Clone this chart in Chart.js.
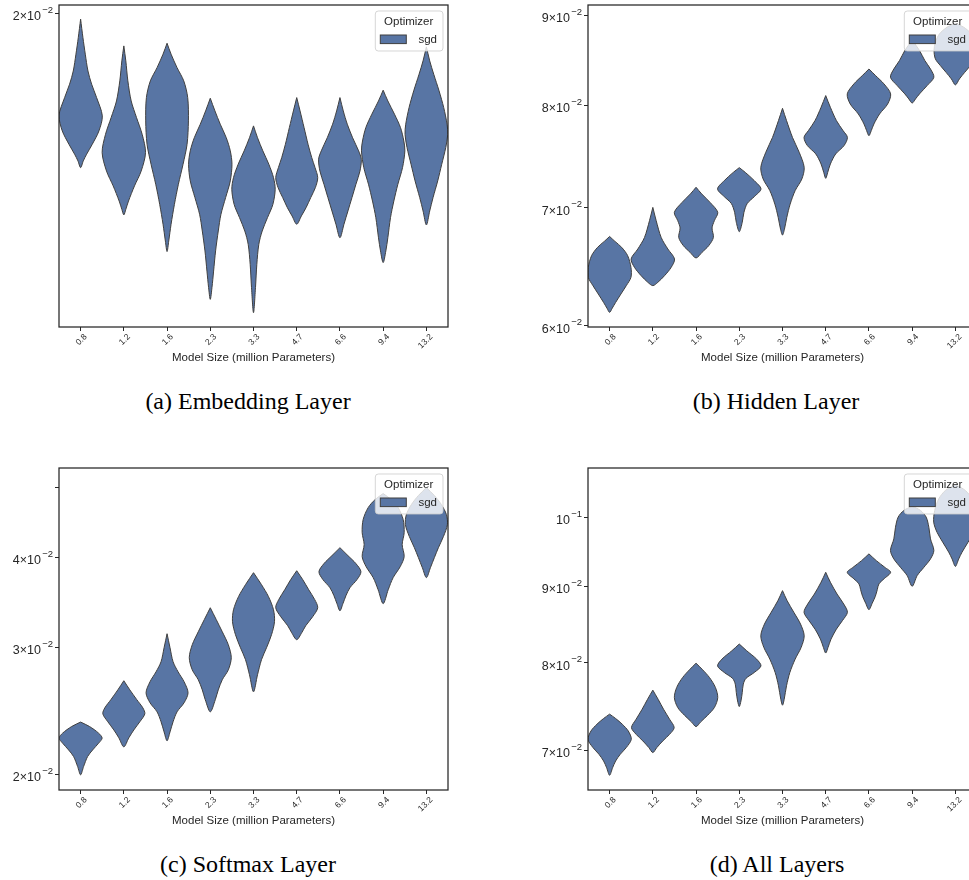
<!DOCTYPE html>
<html>
<head>
<meta charset="utf-8">
<script src="https://cdn.jsdelivr.net/npm/chart.js"></script>
<style>
  html, body { margin: 0; padding: 0; background: #ffffff; }
  body { width: 969px; height: 880px; overflow: hidden; position: relative; }
  canvas { position: absolute; }
  .caption { position: absolute; width: 400px; text-align: center; font-family: "Liberation Serif", "Times New Roman", serif; font-size: 24px; line-height: 24px; color: #000; white-space: nowrap; }
</style>
</head>
<body>
<canvas id="cv_embedding" width="460" height="367" style="left:0px;top:0px"></canvas>
<canvas id="cv_hidden" width="460" height="367" style="left:529px;top:0px"></canvas>
<canvas id="cv_softmax" width="460" height="367" style="left:0px;top:463px"></canvas>
<canvas id="cv_all" width="460" height="367" style="left:529px;top:463px"></canvas>
<div class="caption" style="left:48px;top:389px">(a) Embedding Layer</div>
<div class="caption" style="left:576px;top:389px">(b) Hidden Layer</div>
<div class="caption" style="left:48px;top:852px">(c) Softmax Layer</div>
<div class="caption" style="left:577px;top:852px">(d) All Layers</div>
<script>
//categories and labels
const modelSizes = ["0.8", "1.2", "1.6", "2.3", "3.3", "4.7", "6.6", "9.4", "13.2"];
const xTitle = "Model Size (million Parameters)";
const legendTitle = "Optimizer";
const seriesName = "sgd";

//violin outlines: levels from top tip to bottom tip, half widths as share of a category slot
const embeddingLevels = [
	[0.019851, 0.019359, 0.018932, 0.018505, 0.018178, 0.017851, 0.017415, 0.017063, 0.016758, 0.016534, 0.016385, 0.016236],
	[0.019145, 0.018761, 0.018260, 0.017770, 0.017376, 0.016985, 0.016571, 0.016161, 0.015840, 0.015518, 0.015345, 0.015229],
	[0.019214, 0.018932, 0.018590, 0.018260, 0.017851, 0.017297, 0.016758, 0.016310, 0.015875, 0.015447, 0.015038, 0.014700, 0.014492],
	[0.017835, 0.017532, 0.017219, 0.016907, 0.016609, 0.016310, 0.015947, 0.015590, 0.015242, 0.014901, 0.014505, 0.014114, 0.013802, 0.013584],
	[0.017180, 0.016907, 0.016609, 0.016310, 0.016018, 0.015768, 0.015447, 0.015174, 0.014901, 0.014635, 0.014244, 0.013802, 0.013341],
	[0.017851, 0.017532, 0.017141, 0.016758, 0.016459, 0.016236, 0.016018, 0.015804, 0.015590, 0.015379, 0.015208, 0.015038],
	[0.017851, 0.017532, 0.017219, 0.016907, 0.016609, 0.016422, 0.016161, 0.015875, 0.015590, 0.015311, 0.015038, 0.014765],
	[0.018031, 0.017770, 0.017454, 0.017141, 0.016832, 0.016609, 0.016236, 0.015875, 0.015518, 0.015174, 0.014765, 0.014505, 0.014277],
	[0.019120, 0.018761, 0.018423, 0.018015, 0.017610, 0.017219, 0.016985, 0.016683, 0.016310, 0.015947, 0.015590, 0.015311, 0.015024]
];
const embeddingWidths = [
	[0, 0.054, 0.108, 0.170, 0.255, 0.370, 0.502, 0.424, 0.270, 0.139, 0.062, 0],
	[0, 0.046, 0.093, 0.170, 0.293, 0.424, 0.502, 0.401, 0.247, 0.108, 0.046, 0],
	[0, 0.093, 0.231, 0.386, 0.478, 0.494, 0.463, 0.370, 0.262, 0.170, 0.093, 0.039, 0],
	[0, 0.108, 0.231, 0.370, 0.463, 0.502, 0.463, 0.355, 0.247, 0.185, 0.123, 0.077, 0.039, 0],
	[0, 0.093, 0.216, 0.355, 0.463, 0.502, 0.448, 0.324, 0.201, 0.123, 0.077, 0.046, 0],
	[0, 0.077, 0.170, 0.262, 0.347, 0.424, 0.486, 0.432, 0.324, 0.216, 0.108, 0],
	[0, 0.077, 0.170, 0.293, 0.432, 0.494, 0.463, 0.370, 0.278, 0.185, 0.093, 0],
	[0, 0.108, 0.262, 0.401, 0.478, 0.502, 0.448, 0.340, 0.247, 0.170, 0.108, 0.062, 0],
	[0, 0.077, 0.170, 0.293, 0.401, 0.478, 0.494, 0.448, 0.355, 0.262, 0.154, 0.077, 0]
];

const hiddenLevels = [
	[0.067429, 0.066995, 0.066479, 0.065762, 0.064758, 0.063922, 0.063235, 0.062548, 0.061861, 0.061409, 0.061067],
	[0.070036, 0.068837, 0.067339, 0.066335, 0.065475, 0.064758, 0.064059, 0.063510, 0.063235],
	[0.071901, 0.071275, 0.070492, 0.069587, 0.068837, 0.068178, 0.067339, 0.066622, 0.066048, 0.065561],
	[0.073765, 0.073309, 0.072526, 0.071744, 0.071024, 0.070399, 0.069587, 0.068688, 0.067849],
	[0.079705, 0.078442, 0.076735, 0.075264, 0.073792, 0.072683, 0.071588, 0.070336, 0.069137, 0.068088, 0.067549],
	[0.081041, 0.079808, 0.078442, 0.077418, 0.076735, 0.075918, 0.075100, 0.074119, 0.073309, 0.072745],
	[0.083902, 0.083181, 0.082289, 0.081219, 0.080149, 0.079125, 0.078101, 0.077418, 0.076906],
	[0.087142, 0.085950, 0.084833, 0.083902, 0.083003, 0.082111, 0.081219, 0.080684, 0.080256],
	[0.089074, 0.088607, 0.087829, 0.086881, 0.085950, 0.085019, 0.084275, 0.083538, 0.082824, 0.082182]
];
const hiddenWidths = [
	[0, 0.123, 0.278, 0.417, 0.494, 0.494, 0.386, 0.262, 0.139, 0.062, 0],
	[0, 0.077, 0.193, 0.347, 0.502, 0.424, 0.270, 0.116, 0],
	[0, 0.131, 0.324, 0.502, 0.424, 0.370, 0.401, 0.293, 0.139, 0],
	[0, 0.139, 0.347, 0.502, 0.347, 0.185, 0.108, 0.069, 0],
	[0, 0.093, 0.231, 0.386, 0.502, 0.448, 0.293, 0.177, 0.100, 0.046, 0],
	[0, 0.108, 0.247, 0.401, 0.502, 0.424, 0.231, 0.108, 0.046, 0],
	[0, 0.154, 0.347, 0.502, 0.432, 0.247, 0.116, 0.054, 0],
	[0, 0.170, 0.293, 0.424, 0.502, 0.347, 0.170, 0.077, 0],
	[0, 0.193, 0.370, 0.463, 0.494, 0.463, 0.347, 0.216, 0.093, 0]
];

const softmaxLevels = [
	[0.023630, 0.023295, 0.022808, 0.022451, 0.022094, 0.021616, 0.021167, 0.020498, 0.019963],
	[0.026967, 0.026189, 0.025378, 0.024728, 0.024262, 0.023653, 0.023044, 0.022473, 0.021830],
	[0.031335, 0.029959, 0.028656, 0.027745, 0.026881, 0.025946, 0.025134, 0.024414, 0.023653, 0.022901, 0.022259],
	[0.034047, 0.032776, 0.031531, 0.030254, 0.029024, 0.027918, 0.027054, 0.026189, 0.025378, 0.024414],
	[0.038082, 0.036653, 0.035276, 0.033824, 0.032566, 0.031237, 0.029959, 0.028840, 0.027486, 0.026027],
	[0.038320, 0.037249, 0.036058, 0.034941, 0.034047, 0.033090, 0.032147, 0.031433, 0.030745],
	[0.041249, 0.040216, 0.039201, 0.038201, 0.037249, 0.036296, 0.035388, 0.034494, 0.033719],
	[0.049031, 0.048108, 0.046878, 0.045128, 0.043279, 0.041655, 0.040089, 0.038820, 0.037487, 0.036058, 0.034494],
	[0.049974, 0.048723, 0.047339, 0.045849, 0.044406, 0.042738, 0.041249, 0.039962, 0.038693, 0.037487]
];
const softmaxWidths = [
	[0, 0.208, 0.417, 0.498, 0.417, 0.278, 0.162, 0.069, 0],
	[0, 0.139, 0.301, 0.440, 0.486, 0.370, 0.231, 0.116, 0],
	[0, 0.069, 0.139, 0.255, 0.394, 0.486, 0.394, 0.231, 0.139, 0.069, 0],
	[0, 0.139, 0.278, 0.417, 0.486, 0.417, 0.278, 0.185, 0.116, 0],
	[0, 0.185, 0.347, 0.463, 0.486, 0.417, 0.301, 0.185, 0.093, 0],
	[0, 0.139, 0.278, 0.417, 0.486, 0.370, 0.208, 0.116, 0],
	[0, 0.185, 0.370, 0.486, 0.394, 0.231, 0.139, 0.069, 0],
	[0, 0.185, 0.347, 0.463, 0.486, 0.440, 0.486, 0.394, 0.231, 0.116, 0],
	[0, 0.185, 0.347, 0.463, 0.486, 0.394, 0.278, 0.185, 0.093, 0]
];

const allLevels = [
	[0.073964, 0.073473, 0.072832, 0.072077, 0.071171, 0.070274, 0.069557, 0.068840, 0.068132, 0.067348],
	[0.076734, 0.075662, 0.074530, 0.073398, 0.072454, 0.071709, 0.070992, 0.070274, 0.069736],
	[0.079968, 0.079237, 0.078244, 0.077052, 0.075861, 0.074719, 0.073850, 0.073096, 0.072567],
	[0.082351, 0.081515, 0.080470, 0.079634, 0.078840, 0.078125, 0.077449, 0.076456, 0.075473, 0.074832],
	[0.089373, 0.087995, 0.086455, 0.084914, 0.083396, 0.081933, 0.080470, 0.078840, 0.077251, 0.075662, 0.074983],
	[0.091920, 0.090531, 0.088910, 0.087555, 0.086455, 0.085354, 0.084254, 0.082978, 0.081933, 0.081222],
	[0.094552, 0.093577, 0.092614, 0.091920, 0.090994, 0.090299, 0.089512, 0.088586, 0.087687, 0.086807],
	[0.101722, 0.101056, 0.100030, 0.098490, 0.096746, 0.095040, 0.093821, 0.092614, 0.091457, 0.089975],
	[0.105119, 0.104201, 0.102851, 0.101056, 0.099260, 0.097721, 0.096259, 0.094796, 0.093821, 0.092753]
];
const allWidths = [
	[0, 0.139, 0.293, 0.432, 0.502, 0.386, 0.247, 0.139, 0.069, 0],
	[0, 0.123, 0.247, 0.386, 0.494, 0.386, 0.231, 0.093, 0],
	[0, 0.139, 0.309, 0.448, 0.502, 0.424, 0.270, 0.108, 0],
	[0, 0.170, 0.401, 0.502, 0.347, 0.154, 0.093, 0.069, 0.039, 0],
	[0, 0.108, 0.262, 0.417, 0.502, 0.432, 0.293, 0.170, 0.093, 0.039, 0],
	[0, 0.108, 0.262, 0.417, 0.502, 0.386, 0.247, 0.123, 0.054, 0],
	[0, 0.170, 0.370, 0.502, 0.347, 0.231, 0.193, 0.147, 0.077, 0],
	[0, 0.193, 0.324, 0.386, 0.424, 0.502, 0.424, 0.270, 0.116, 0],
	[0, 0.231, 0.386, 0.478, 0.502, 0.424, 0.293, 0.154, 0.077, 0]
];

//y axis ranges and ticks (log scale)
const embeddingRange = [0.013085, 0.020235];
const hiddenRange = [0.059911, 0.091214];
const softmaxRange = [0.019021, 0.053204];
const allRange = [0.065849, 0.107846];
const embeddingTicks = [0.02];
const hiddenTicks = [0.06, 0.07, 0.08, 0.09];
const softmaxTicks = [0.02, 0.03, 0.04, 0.05];
const softmaxUnlabelled = [0.05];
const allTicks = [0.07, 0.08, 0.09, 0.1];

const violinFill = '#5875a4';
const violinEdge = '#3f3f3f';
const inkColor = '#262626';
const fontFamily = '"Liberation Sans", Arial, sans-serif';

Chart.defaults.font.family = fontFamily;
Chart.defaults.color = inkColor;

//split a tick value into "9×10" and "−2"
function SciParts(v) {
	var e = Math.floor(Math.log10(v) + 1e-9);
	var m = Math.round(v / Math.pow(10, e));
	var exp = String(e).replace('-', '\u2212');
	return { base: m === 1 ? '10' : m + '\u00D710', exp: exp };
}

//closed outline: right side top->bottom, then left side bottom->top
function ViolinOutline(center, levels, widths) {
	var pts = [];
	for (var k = 0; k < levels.length; k++)
		pts.push({ x: center + widths[k], y: levels[k] });
	for (var k = levels.length - 2; k >= 0; k--)
		pts.push({ x: center - widths[k], y: levels[k] });
	return pts;
}

//frame round the plot area, y tick labels with raised exponents, and the legend
const framePlugin = {
	id: 'frameAndLegend',
	afterDraw(chart) {
		const ctx = chart.ctx;
		const a = chart.chartArea;
		const ys = chart.scales.y;
		const skip = chart.config.options.unlabelled || [];
		ctx.save();
		ctx.strokeStyle = inkColor;
		ctx.lineWidth = 1.25;
		ctx.strokeRect(a.left, a.top, a.right - a.left, a.bottom - a.top);

		//y tick labels
		ctx.fillStyle = inkColor;
		ctx.textAlign = 'right';
		ctx.textBaseline = 'alphabetic';
		ys.ticks.forEach(t => {
			if (skip.indexOf(t.value) >= 0) return;
			const p = SciParts(t.value);
			const py = ys.getPixelForValue(t.value);
			const right = a.left - 6;
			ctx.font = '9.5px ' + fontFamily;
			const wExp = ctx.measureText(p.exp).width;
			ctx.fillText(p.exp, right, py - 0.5);
			ctx.font = '12.5px ' + fontFamily;
			ctx.fillText(p.base, right - wExp - 1.2, py + 6.8);
		});

		//legend box
		const bx = a.right - 72.7, by = a.top + 6, bw = 67.7, bh = 40, r = 3;
		ctx.beginPath();
		ctx.moveTo(bx + r, by);
		ctx.arcTo(bx + bw, by, bx + bw, by + bh, r);
		ctx.arcTo(bx + bw, by + bh, bx, by + bh, r);
		ctx.arcTo(bx, by + bh, bx, by, r);
		ctx.arcTo(bx, by, bx + bw, by, r);
		ctx.closePath();
		ctx.fillStyle = 'rgba(255,255,255,0.8)';
		ctx.fill();
		ctx.strokeStyle = 'rgba(204,204,204,0.8)';
		ctx.lineWidth = 1;
		ctx.stroke();

		ctx.fillStyle = inkColor;
		ctx.font = '11.5px ' + fontFamily;
		ctx.textBaseline = 'middle';
		ctx.textAlign = 'center';
		ctx.fillText(legendTitle, a.right - 39.3, a.top + 16.6);

		ctx.fillStyle = violinFill;
		ctx.fillRect(a.right - 67.7, a.top + 30, 26, 8.6);
		ctx.strokeStyle = violinEdge;
		ctx.lineWidth = 1;
		ctx.strokeRect(a.right - 67.7, a.top + 30, 26, 8.6);

		ctx.fillStyle = inkColor;
		ctx.textAlign = 'right';
		ctx.fillText(seriesName, a.right - 11, a.top + 34.6);
		ctx.restore();
	}
};

function GenerateViolinChart(canvasId, levels, widths, range, ticks, unlabelled) {
	var datasets = new Array();
	for (var i = 0; i < levels.length; i++) {
		datasets.push({
			label: modelSizes[i],
			data: ViolinOutline(i, levels[i], widths[i]),
			fill: 'shape',
			backgroundColor: violinFill,
			borderColor: violinEdge,
			borderWidth: 1,
			pointRadius: 0,
			tension: 0.3
		});
	}

	const tickGrid = {
		display: true,
		drawOnChartArea: false,
		drawTicks: true,
		tickLength: 4,
		color: inkColor,
		lineWidth: 1
	};

	const config = {
		type: 'line',
		data: { datasets: datasets },
		options: {
			responsive: false,
			animation: false,
			events: [],
			unlabelled: unlabelled,
			layout: { padding: { top: 5, right: 12, left: 0, bottom: 0 } },
			plugins: {
				legend: { display: false },
				tooltip: { enabled: false }
			},
			scales: {
				x: {
					type: 'linear',
					min: -0.5,
					max: 8.5,
					afterBuildTicks: s => { s.ticks = modelSizes.map((_, i) => ({ value: i })); },
					afterFit: s => { s.height = 40; s.paddingLeft = 0; s.paddingRight = 0; },
					ticks: {
						autoSkip: false,
						minRotation: 45,
						maxRotation: 45,
						padding: 1,
						labelOffset: 5,
						font: { size: 8.5 },
						color: inkColor,
						callback: v => modelSizes[v]
					},
					grid: tickGrid,
					border: { display: false },
					title: {
						display: true,
						text: xTitle,
						color: inkColor,
						font: { size: 11.5 },
						padding: { top: 0, bottom: 2.4 }
					}
				},
				y: {
					type: 'logarithmic',
					min: range[0],
					max: range[1],
					afterBuildTicks: s => { s.ticks = ticks.map(v => ({ value: v })); },
					afterFit: s => { s.width = 59; s.paddingTop = 0; s.paddingBottom = 0; },
					ticks: { display: false, autoSkip: false },
					grid: tickGrid,
					border: { display: false }
				}
			}
		},
		plugins: [framePlugin]
	};

	return new Chart(document.getElementById(canvasId), config);
}

GenerateViolinChart('cv_embedding', embeddingLevels, embeddingWidths, embeddingRange, embeddingTicks, []);
GenerateViolinChart('cv_hidden', hiddenLevels, hiddenWidths, hiddenRange, hiddenTicks, []);
GenerateViolinChart('cv_softmax', softmaxLevels, softmaxWidths, softmaxRange, softmaxTicks, softmaxUnlabelled);
GenerateViolinChart('cv_all', allLevels, allWidths, allRange, allTicks, []);
</script>
</body>
</html>
